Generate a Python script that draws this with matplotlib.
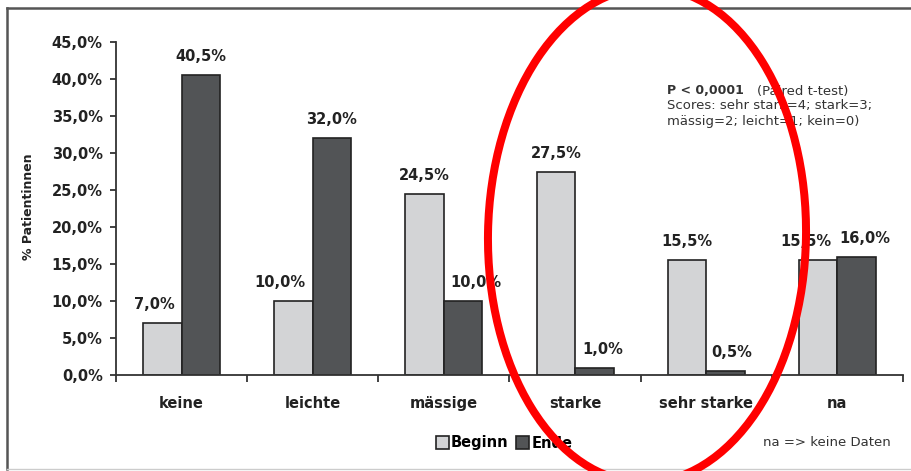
import matplotlib
matplotlib.use("Agg")
import matplotlib.pyplot as plt
from matplotlib.patches import Ellipse, Patch
from matplotlib.lines import Line2D
import numpy as np

categories = ["keine", "leichte", "mässige", "starke", "sehr starke", "na"]
beginn = [7.0, 10.0, 24.5, 27.5, 15.5, 15.5]
ende = [40.5, 32.0, 10.0, 1.0, 0.5, 16.0]
y_ticks = [0, 5, 10, 15, 20, 25, 30, 35, 40, 45]

# horizontal nudges (in pixels) for the value labels
nudge_beginn = [-8, -14, 0, 0, 0, -12]
nudge_ende = [0, 0, 13, 8, 6, 8]

W, H, DPI = 912, 471, 100
fig = plt.figure(figsize=(W / DPI, H / DPI), dpi=DPI)
fig.patch.set_facecolor("white")

def fx(px):
    return px / W

def fy(py):
    return 1 - py / H

ax_left, ax_right, ax_top, ax_bottom = 116, 903, 42, 375
ax = fig.add_axes([fx(ax_left), fy(ax_bottom), fx(ax_right - ax_left), (ax_bottom - ax_top) / H])

c_beg = "#d3d4d6"
c_end = "#525456"
edge = "#222222"
bw = 0.293
x = np.arange(len(categories)) + 0.5

ax.bar(x - bw / 2, beginn, width=bw, color=c_beg, edgecolor=edge, linewidth=1.2, zorder=2)
ax.bar(x + bw / 2, ende, width=bw, color=c_end, edgecolor=edge, linewidth=1.2, zorder=2)

def fmt(v):
    return f"{v:.1f}".replace(".", ",") + "%"

for i in range(len(categories)):
    for xc, v, nd in ((x[i] - bw / 2, beginn[i], nudge_beginn[i]),
                      (x[i] + bw / 2, ende[i], nudge_ende[i])):
        ax.annotate(fmt(v), (xc, v), xytext=(nd * 72 / DPI, 11 * 72 / DPI),
                    textcoords="offset points", ha="center", va="bottom",
                    fontsize=10.5, fontweight="bold", color="#222222")

ax.set_xlim(0, len(categories))
ax.set_ylim(0, 45)
ax.set_yticks(y_ticks)
ax.set_yticklabels([f"{t:.1f}".replace(".", ",") + "%" for t in y_ticks],
                   fontsize=10.5, fontweight="bold", color="#222222")
ax.set_xticks(np.arange(len(categories) + 1))
ax.set_xticklabels([])
ax.set_xticks(x, minor=True)
ax.set_xticklabels(categories, minor=True, fontsize=10.5, fontweight="bold", color="#222222")
ax.tick_params(axis="x", which="major", direction="out", length=5, width=1.3, color="#333333")
ax.tick_params(axis="x", which="minor", length=0, pad=15)
ax.tick_params(axis="y", direction="out", length=4.5, width=1.3, color="#333333", pad=5)
for s in ("top", "right"):
    ax.spines[s].set_visible(False)
for s in ("left", "bottom"):
    ax.spines[s].set_color("#333333")
    ax.spines[s].set_linewidth(1.3)

ax.set_ylabel("% Patientinnen", fontsize=9, fontweight="bold", color="#222222")
ax.yaxis.set_label_coords(fx(35 - ax_left) / fx(ax_right - ax_left), 0.5 + (375 - 207 - 166.5) / 333)

# note on the test and the scoring
fig.text(fx(667), fy(91), "P < 0,0001", fontsize=9, fontweight="bold", color="#333333", va="center")
fig.text(fx(757), fy(91), "(Paired t-test)", fontsize=9.5, color="#333333", va="center")
fig.text(fx(667), fy(106), "Scores: sehr stark=4; stark=3;", fontsize=9.5, color="#333333", va="center")
fig.text(fx(667), fy(122), "mässig=2; leicht=1; kein=0)", fontsize=9.5, color="#333333", va="center")

handles = [Patch(facecolor=c_beg, edgecolor=edge, linewidth=1.2),
           Patch(facecolor=c_end, edgecolor=edge, linewidth=1.2)]
fig.legend(handles, ["Beginn", "Ende"], loc="center", bbox_to_anchor=(fx(504), fy(443)),
           ncol=2, frameon=False, handlelength=0.9, handleheight=0.9,
           handletextpad=0.15, columnspacing=0.5,
           prop={"size": 10.5, "weight": "bold"})
fig.text(fx(763), fy(443), "na => keine Daten", fontsize=9.5, color="#333333", va="center")

# surrounding frame
fig.add_artist(Line2D([fx(7), 1], [fy(8), fy(8)], color="#555555", linewidth=1.8))
fig.add_artist(Line2D([fx(7), fx(7)], [fy(8), fy(469)], color="#555555", linewidth=1.8))
fig.add_artist(Line2D([fx(7), 1], [fy(469), fy(469)], color="#cccccc", linewidth=1.0))

# red highlight ring
ring = Ellipse((647 / DPI, (H - 235) / DPI), 318 / DPI, 495 / DPI, angle=-1,
               transform=fig.dpi_scale_trans, fill=False, edgecolor="#ff0000",
               linewidth=8 * 72 / DPI, zorder=10)
fig.add_artist(ring)

fig.savefig("out.png", dpi=DPI)
